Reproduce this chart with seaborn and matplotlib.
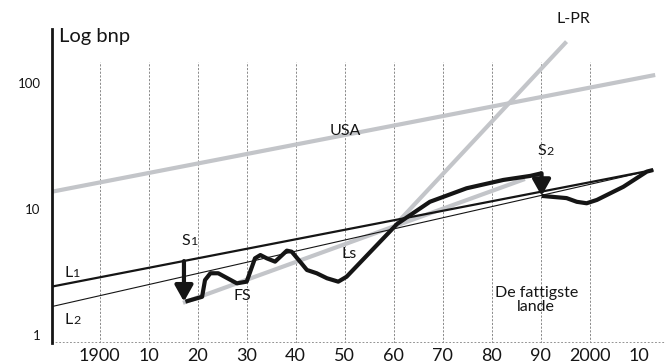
import numpy as np
import pandas as pd
import matplotlib
matplotlib.use("Agg")
import matplotlib.pyplot as plt
import seaborn as sns

# --- data -------------------------------------------------------------------
# straight trend lines, given by their end points (year, GDP index)
usa_years = [1890.2, 2013.4]
usa_values = [13.7, 115.7]

lpr_years = [1960.7, 1995.3]
lpr_values = [7.74, 212.8]

ls_years = [1917.0, 1986.8]
ls_values = [1.80, 17.3]

l1_years = [1890.2, 2013.0]
l1_values = [2.42, 20.4]

l2_years = [1890.2, 2013.0]
l2_values = [1.68, 20.4]

# actual development path, before and after the second shock
path_a_years = [1917.5, 1920.9, 1921.5, 1922.6, 1924.2, 1928.0, 1930.0, 1931.7,
                1932.8, 1934.1, 1935.8, 1938.2, 1939.2, 1940.9, 1942.3, 1944.3,
                1946.4, 1948.7, 1950.4, 1960.7, 1967.4, 1974.9, 1982.4, 1987.9,
                1990.2]
path_a_values = [1.84, 2.01, 2.73, 3.09, 3.09, 2.57, 2.65, 4.06,
                 4.31, 4.06, 3.82, 4.67, 4.58, 3.82, 3.28, 3.09,
                 2.82, 2.65, 2.90, 7.60, 11.4, 14.6, 17.0, 18.3,
                 19.2]
path_b_years = [1990.2, 1995.3, 1997.4, 1999.4, 2001.5, 2006.9, 2011.7, 2013.0]
path_b_values = [12.7, 12.2, 11.4, 11.1, 11.8, 15.0, 19.8, 20.4]

# shocks: (year, level before, level after)
s1 = (1917.2, 3.86, 1.84)
s2 = (1990.2, 19.2, 12.7)

grid_years = [1900, 1910, 1920, 1930, 1940, 1950, 1960, 1970, 1980, 1990, 2000]
xtick_years = [1900, 1910, 1920, 1930, 1940, 1950, 1960, 1970, 1980, 1990, 2000, 2010]
xtick_labels = ["1900", "10", "20", "30", "40", "50", "60", "70", "80", "90", "2000", "10"]
ytick_values = [1, 10, 100]
ytick_labels = ["1", "10", "100"]

# --- style ------------------------------------------------------------------
sns.set_theme(style="white")
plt.rcParams["font.family"] = ["Lato", "DejaVu Sans"]

GREY = "#c3c5c9"
BLACK = "#151515"

fig = plt.figure(figsize=(6.65, 3.64), dpi=100)
ax = fig.add_axes([51.7 / 665, 1 - 343 / 364, 1 - 51.7 / 665, (343 - 29) / 364])
ax.set_yscale("log")
ax.set_xlim(1890.2, 2015.4)
ax.set_ylim(0.864, 268)

# vertical dashed grid
ax.vlines(grid_years, 0.864, 146.8, colors="#8a8a8a", linestyles=(0, (2.2, 1.6)),
          linewidth=0.7, zorder=1)


def line(years, values, color, lw, z):
    df = pd.DataFrame({"year": years, "value": values})
    sns.lineplot(data=df, x="year", y="value", ax=ax, color=color, linewidth=lw,
                 sort=False, estimator=None, zorder=z, solid_capstyle="butt")


line(usa_years, usa_values, GREY, 3.0, 2)
line(lpr_years, lpr_values, GREY, 3.0, 2)
line(ls_years, ls_values, GREY, 3.0, 2)
line(l1_years, l1_values, BLACK, 1.6, 3)
line(l2_years, l2_values, BLACK, 0.8, 3)
line(path_a_years, path_a_values, BLACK, 3.0, 4)
line(path_b_years, path_b_values, BLACK, 3.0, 4)

for yr, v0, v1 in (s1, s2):
    ax.annotate("", xy=(yr, v1), xytext=(yr, v0),
                arrowprops=dict(arrowstyle="-|>,head_width=0.45,head_length=0.8",
                                lw=3.0, color=BLACK, shrinkA=0, shrinkB=0,
                                mutation_scale=12),
                zorder=5)

# axes decoration
for side in ("top", "right", "bottom"):
    ax.spines[side].set_visible(False)
ax.spines["left"].set_linewidth(2.0)
ax.spines["left"].set_color(BLACK)
ax.axhline(0.864, color="#8a8a8a", linestyle=(0, (1, 1)), linewidth=1.3, zorder=1)

ax.set_xticks(xtick_years)
ax.set_xticklabels(xtick_labels, fontsize=13, color=BLACK)
ax.set_yticks(ytick_values)
ax.set_yticklabels(ytick_labels, fontsize=9.5, color=BLACK)
ax.yaxis.set_minor_locator(matplotlib.ticker.NullLocator())
ax.tick_params(axis="y", length=0, pad=8)
ax.tick_params(axis="x", length=0, pad=3.5)
ax.set_xlabel("")
ax.set_ylabel("")

# labels
FS_MAIN = 11.5
txt = dict(color=BLACK, ha="center", va="center", fontsize=FS_MAIN, clip_on=False)
ax.text(1891.7, 232, "Log bnp", color=BLACK, ha="left", va="center", fontsize=14.5,
        clip_on=False)
ax.text(1950.1, 41.6, "USA", **txt)
ax.text(1996.8, 322, "L-PR", **txt)
ax.text(1950.9, 4.39, "Ls", **txt)
ax.text(1929.1, 2.04, "FS", **txt)
ax.text(1989.1, 1.90, "De fattigste\nlande", linespacing=0.95, **txt)


def indexed(x, y, letter, digit):
    """Letter followed by a small baseline-aligned digit, anchored at their joint."""
    ax.text(x, y, letter, color=BLACK, ha="right", va="baseline",
            fontsize=FS_MAIN, clip_on=False)
    ax.annotate(digit, xy=(x, y), xytext=(0.6, 0), textcoords="offset points",
                color=BLACK, ha="left", va="baseline", fontsize=FS_MAIN * 0.78,
                annotation_clip=False)


# anchors sit on each label's baseline
indexed(1991.1, 27.0, "S", "2")
indexed(1918.5, 5.15, "S", "1")
indexed(1894.4, 2.90, "L", "1")
indexed(1894.4, 1.22, "L", "2")

fig.savefig("out.png", dpi=100)
